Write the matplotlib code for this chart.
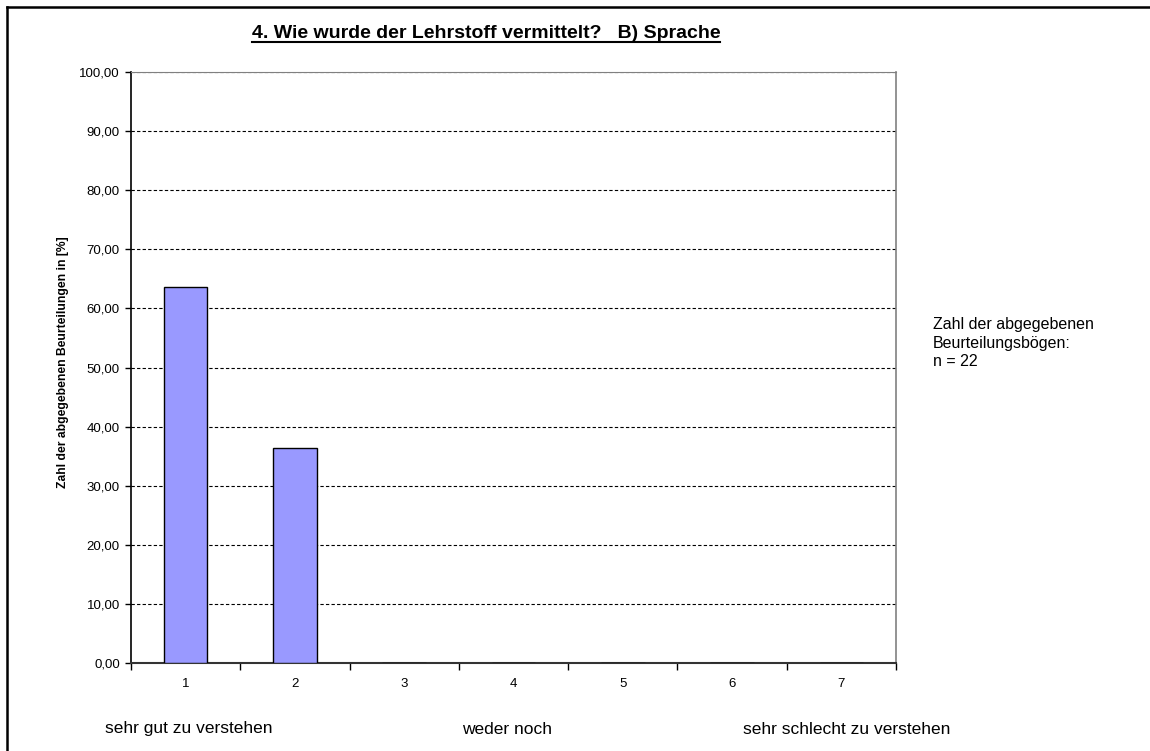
import matplotlib.pyplot as plt
from matplotlib.lines import Line2D

# Bewertung Sprache, Anteile in %
categories = ['1', '2', '3', '4', '5', '6', '7']
percent = [63.64, 36.36, 0, 0, 0, 0, 0]
y_ticks = [0, 10, 20, 30, 40, 50, 60, 70, 80, 90, 100]
scale_labels = ['sehr gut zu verstehen', 'weder noch', 'sehr schlecht zu verstehen']
n_forms = 22

plt.rcParams['font.family'] = ['Liberation Sans', 'DejaVu Sans']

W, H = 1150, 751
fig = plt.figure(figsize=(W / 100, H / 100), dpi=100)
ax = fig.add_axes([131 / W, 1 - 663 / H, 765 / W, 591 / H])

x = list(range(1, len(categories) + 1))
ax.bar(x, percent, width=0.4, color='#9999ff', edgecolor='black', linewidth=1, zorder=3)
ax.set_xlim(0.5, len(categories) + 0.5)
ax.set_ylim(0, 100)

ax.set_yticks(y_ticks)
ax.set_yticklabels([f'{v:.2f}'.replace('.', ',') for v in y_ticks], fontsize=9.5)
ax.yaxis.grid(True, linestyle=(0, (3, 2)), color='black', linewidth=0.8, zorder=1)
ax.tick_params(axis='y', direction='out', length=4, width=1, pad=4)

# tick marks between categories, labels in the middle
ax.set_xticks([i + 0.5 for i in range(len(categories) + 1)])
ax.set_xticklabels([])
ax.set_xticks(x, minor=True)
ax.set_xticklabels(categories, minor=True, fontsize=9.5)
ax.tick_params(axis='x', which='major', direction='out', length=5, width=1)
ax.tick_params(axis='x', which='minor', length=0, pad=11)

ax.spines['left'].set_color('black')
ax.spines['left'].set_linewidth(1.2)
ax.spines['bottom'].set_color('#333333')
ax.spines['bottom'].set_linewidth(1.5)
ax.spines['top'].set_color('#808080')
ax.spines['right'].set_color('#808080')
ax.spines['right'].set_linewidth(1.2)

fig.text(63 / W, 1 - 362 / H, 'Zahl der abgegebenen Beurteilungen in [%]',
         rotation=90, fontsize=8.7, weight='bold', ha='center', va='center')

title = fig.text(486 / W, 1 - 34 / H, '4. Wie wurde der Lehrstoff vermittelt?   B) Sprache',
                 fontsize=14, weight='bold', ha='center', va='center')

for label, xc in zip(scale_labels, [189, 507, 847]):
    fig.text(xc / W, 1 - 729 / H, label, fontsize=12.5, ha='center', va='center')

fig.text(933 / W, 1 - 317 / H,
         f'Zahl der abgegebenen\nBeurteilungsbögen:\nn = {n_forms}',
         fontsize=11.5, ha='left', va='top', linespacing=1.3)

# Rahmen oben und links
fig.add_artist(Line2D([6.5 / W, 1], [1 - 6.5 / H, 1 - 6.5 / H], color='black', lw=1.8,
                      transform=fig.transFigure))
fig.add_artist(Line2D([6.5 / W, 6.5 / W], [0, 1 - 6.5 / H], color='black', lw=1.8,
                      transform=fig.transFigure))

# Unterstreichung des Titels
fig.canvas.draw()
bb = title.get_window_extent()
uy = (bb.y0 + 0.5) / H
fig.add_artist(Line2D([bb.x0 / W, bb.x1 / W], [uy, uy], color='black', lw=1.5,
                      transform=fig.transFigure))

fig.savefig('out.png', dpi=100)
